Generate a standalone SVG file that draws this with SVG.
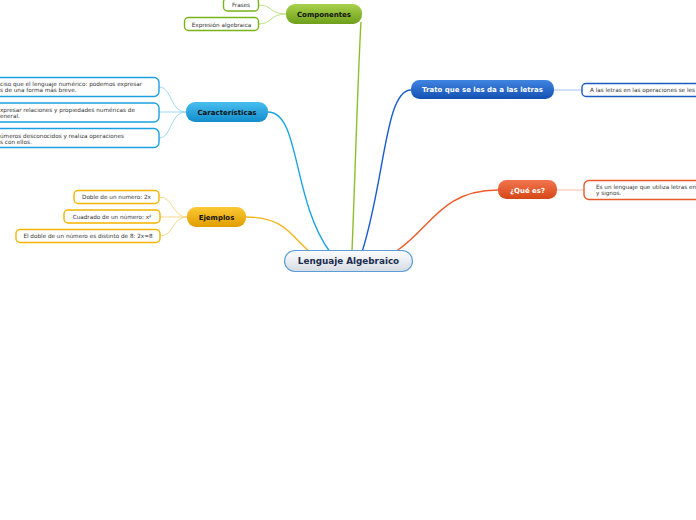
<svg xmlns="http://www.w3.org/2000/svg" width="696" height="520" viewBox="0 0 696 520">
<defs>
<linearGradient id="gC" x1="0" y1="0" x2="0" y2="1"><stop offset="0" stop-color="#fdfdfe"/><stop offset="1" stop-color="#d6dce3"/></linearGradient>
<linearGradient id="gGreen" x1="0" y1="0" x2="0" y2="1"><stop offset="0" stop-color="#a9d24c"/><stop offset="1" stop-color="#6e9f1b"/></linearGradient>
<linearGradient id="gCyan" x1="0" y1="0" x2="0" y2="1"><stop offset="0" stop-color="#48bff0"/><stop offset="1" stop-color="#128dcb"/></linearGradient>
<linearGradient id="gGold" x1="0" y1="0" x2="0" y2="1"><stop offset="0" stop-color="#fbc935"/><stop offset="1" stop-color="#e09d00"/></linearGradient>
<linearGradient id="gBlue" x1="0" y1="0" x2="0" y2="1"><stop offset="0" stop-color="#4085e2"/><stop offset="1" stop-color="#1450b2"/></linearGradient>
<linearGradient id="gRed" x1="0" y1="0" x2="0" y2="1"><stop offset="0" stop-color="#f27650"/><stop offset="1" stop-color="#d64617"/></linearGradient>
</defs>
<style>
.main{font-family:"DejaVu Sans",Verdana,sans-serif;font-weight:bold;font-size:7px;text-anchor:middle}
.leaf{font-family:"DejaVu Sans",Verdana,sans-serif;font-size:5.7px;fill:#333}
.mid{text-anchor:middle}
.lbox{fill:#fff;stroke-width:1.4}
.c{fill:none;stroke-width:1.4}
.cl{fill:none;stroke-width:1}
</style>
<g id="connectors">
<path class="c" stroke="#8dbf2a" d="M352,251 C355,180 358,70 361,22"/>
<path class="c" stroke="#1ba4e4" d="M268,112 C300,112 292,200 330,252"/>
<path class="c" stroke="#f5b41a" d="M245,217 C285,217 290,235 310,252"/>
<path class="c" stroke="#1a5ccc" d="M411,90 C385,90 385,180 362,252"/>
<path class="c" stroke="#ee5a2a" d="M498,190 C440,190 430,230 395,252"/>
<path class="cl" stroke="#bfe08a" d="M286,14 C270,14 272,5 259,5"/>
<path class="cl" stroke="#bfe08a" d="M286,14 C270,14 272,24 259,24"/>
<path class="cl" stroke="#9fd6f2" d="M186,112 C170,112 172,87 159,87"/>
<path class="cl" stroke="#9fd6f2" d="M186,112 L159,112"/>
<path class="cl" stroke="#9fd6f2" d="M186,112 C170,112 172,138 159,138"/>
<path class="cl" stroke="#f8d98a" d="M187,217 C172,217 174,197 159,197"/>
<path class="cl" stroke="#f8d98a" d="M187,217 L160,217"/>
<path class="cl" stroke="#f8d98a" d="M187,217 C172,217 174,236 160,236"/>
<path class="cl" stroke="#9cc0f0" d="M554,90 C568,90 568,90 582,90"/>
<path class="cl" stroke="#f8b8a0" d="M557,190 C570,190 570,190 584,190"/>
</g>
<g id="central">
<rect x="284.5" y="250.5" width="128" height="21" rx="10.5" fill="url(#gC)" stroke="#5c9fd8" stroke-width="1.2"/>
<text x="348.5" y="264" class="main" style="font-size:8.8px" fill="#1c2c4e">Lenguaje Algebraico</text>
</g>
<g id="componentes">
<rect x="286" y="4" width="76" height="20" rx="9" fill="url(#gGreen)"/>
<text x="324" y="16.5" class="main" fill="#111">Componentes</text>
</g>
<g id="frases">
<rect class="lbox" x="223.5" y="-2" width="35" height="13" rx="4" stroke="#7ab317"/>
<text x="241" y="7" class="leaf mid">Frases</text>
</g>
<g id="expresion">
<rect class="lbox" x="184.5" y="17.5" width="74" height="13" rx="4" stroke="#7ab317"/>
<text x="221.5" y="26.5" class="leaf mid">Expresión algebraica</text>
</g>
<g id="caracteristicas">
<rect x="186" y="102" width="82" height="20" rx="9" fill="url(#gCyan)"/>
<text x="227" y="114.5" class="main" fill="#111">Características</text>
</g>
<g id="car1">
<rect class="lbox" x="-10" y="77.5" width="169" height="19" rx="5" stroke="#1ba0e0"/>
<text x="0" y="86.3" class="leaf">ciso que el lenguaje numérico: podemos expresar</text>
<text x="0" y="92.3" class="leaf">s de una forma más breve.</text>
</g>
<g id="car2">
<rect class="lbox" x="-10" y="103" width="169" height="19" rx="5" stroke="#1ba0e0"/>
<text x="0" y="112" class="leaf">xpresar relaciones y propiedades numéricas de</text>
<text x="0" y="118" class="leaf">eneral.</text>
</g>
<g id="car3">
<rect class="lbox" x="-10" y="128.5" width="169" height="19" rx="5" stroke="#1ba0e0"/>
<text x="0" y="137.5" class="leaf">úmeros desconocidos y realiza operaciones</text>
<text x="0" y="143.5" class="leaf">s con ellos.</text>
</g>
<g id="ejemplos">
<rect x="187" y="207" width="59" height="20" rx="9" fill="url(#gGold)"/>
<text x="216.5" y="219.5" class="main" fill="#111">Ejemplos</text>
</g>
<g id="ej1">
<rect class="lbox" x="74" y="190.5" width="85" height="13" rx="4" stroke="#f5b400"/>
<text x="116.5" y="199.3" class="leaf mid">Doble de un numero: 2x</text>
</g>
<g id="ej2">
<rect class="lbox" x="64" y="210" width="96" height="13" rx="4" stroke="#f5b400"/>
<text x="112" y="218.8" class="leaf mid">Cuadrado de un número: x²</text>
</g>
<g id="ej3">
<rect class="lbox" x="16" y="229.5" width="144" height="13" rx="4" stroke="#f5b400"/>
<text x="88" y="238.3" class="leaf mid">El doble de un número es distinto de 8: 2x=8</text>
</g>
<g id="trato">
<rect x="411" y="80" width="143" height="19" rx="8.5" fill="url(#gBlue)"/>
<text x="482.5" y="92" class="main" fill="#fff">Trato que se les da a las letras</text>
</g>
<g id="trato1">
<rect class="lbox" x="582" y="83.5" width="130" height="13" rx="4" stroke="#1a5cc0"/>
<text x="590" y="92.3" class="leaf">A las letras en las operaciones se les t</text>
</g>
<g id="quees">
<rect x="498" y="180" width="59" height="19" rx="8.5" fill="url(#gRed)"/>
<text x="527.5" y="192.5" class="main" fill="#fff">¿Qué es?</text>
</g>
<g id="quees1">
<rect class="lbox" x="584" y="180.5" width="130" height="19" rx="5" stroke="#e85a2c"/>
<text x="596" y="188.8" class="leaf">Es un lenguaje que utiliza letras en c</text>
<text x="596" y="194.8" class="leaf">y signos.</text>
</g>
</svg>
